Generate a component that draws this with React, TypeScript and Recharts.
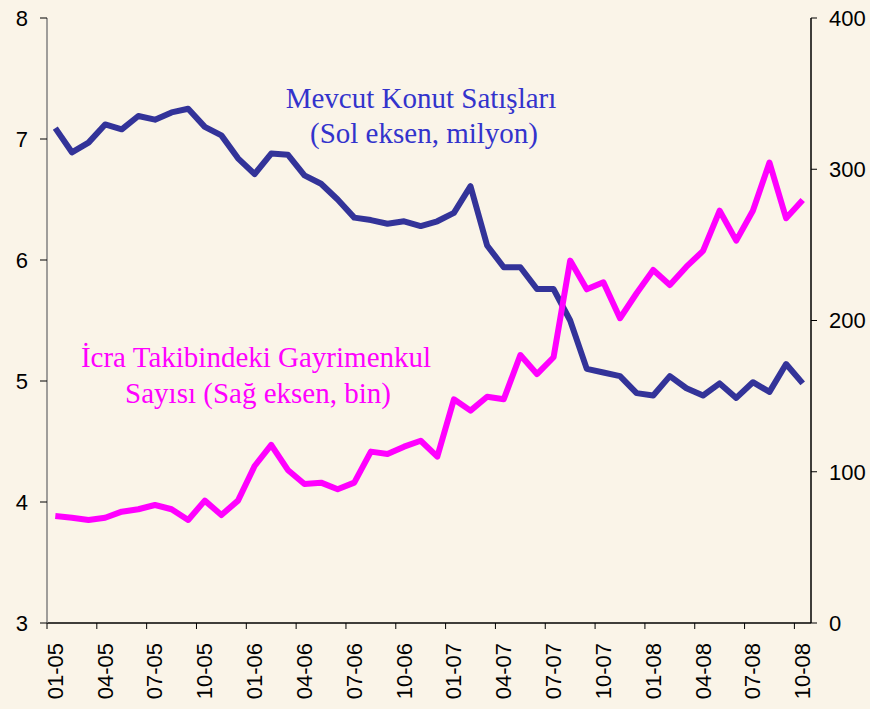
import { ComposedChart, Line, XAxis, YAxis } from "recharts";

const months = [
  "01-05", "02-05", "03-05", "04-05", "05-05", "06-05", "07-05", "08-05", "09-05", "10-05", "11-05", "12-05",
  "01-06", "02-06", "03-06", "04-06", "05-06", "06-06", "07-06", "08-06", "09-06", "10-06", "11-06", "12-06",
  "01-07", "02-07", "03-07", "04-07", "05-07", "06-07", "07-07", "08-07", "09-07", "10-07", "11-07", "12-07",
  "01-08", "02-08", "03-08", "04-08", "05-08", "06-08", "07-08", "08-08", "09-08", "10-08",
];

// Mevcut konut satışları (sol eksen, milyon)
const homeSales = [
  7.09, 6.89, 6.97, 7.12, 7.08, 7.19, 7.16, 7.22, 7.25, 7.1,
  7.03, 6.84, 6.71, 6.88, 6.87, 6.7, 6.63, 6.5, 6.35, 6.33,
  6.3, 6.32, 6.28, 6.32, 6.39, 6.61, 6.12, 5.94, 5.94, 5.76,
  5.76, 5.5, 5.1, 5.07, 5.04, 4.9, 4.88, 5.04, 4.94, 4.88,
  4.98, 4.86, 4.99, 4.91, 5.14, 4.98,
];

// İcra takibindeki gayrimenkul (sağ eksen, bin)
const foreclosures = [
  70.7, 69.6, 68.1, 69.6, 73.6, 75.2, 78.0, 75.2, 68.1, 80.9,
  71.4, 80.9, 103.8, 117.7, 101.2, 91.9, 92.8, 88.4, 92.8, 113.3,
  111.7, 116.6, 120.5, 110, 147.9, 140.4, 149.6, 147.9, 177.2, 164.6,
  175.7, 239.6, 220.6, 225.3, 201.5, 218, 233.4, 223.5, 235.6, 246,
  272.6, 252.8, 272.6, 304.4, 267.6, 279.7,
];

const leftTicks = [3, 4, 5, 6, 7, 8];
const rightTicks = [0, 100, 200, 300, 400];

const data = months.map((m, i) => ({
  month: m,
  sales: homeSales[i],
  foreclosures: foreclosures[i],
}));

const W = 870;
const H = 709;
const bg = "#FAF4E8";
const font = "'Liberation Sans', Arial, sans-serif";
const serif = "'Liberation Serif', 'Times New Roman', serif";

const LEFT_W = 47;
const RIGHT_W = 59;
const band = (W - LEFT_W - RIGHT_W) / months.length;

function MonthTick(props: any) {
  const { x, y, payload } = props;
  const axisY = y - 6;
  return (
    <g>
      <line x1={x - band / 2} x2={x - band / 2} y1={axisY} y2={axisY + 6} stroke="#000" strokeWidth={1} />
      <text
        x={x}
        y={y + 14}
        transform={`rotate(-90 ${x} ${y + 14})`}
        textAnchor="end"
        dominantBaseline="central"
        fontFamily={font}
        fontSize={22}
        fill="#000"
      >
        {payload.value}
      </text>
    </g>
  );
}

export default function App() {
  return (
    <div style={{ position: "absolute", left: 0, top: 0, width: W, height: H, background: bg }}>
      <ComposedChart width={W} height={H} data={data} margin={{ top: 18, right: 0, bottom: 0, left: 0 }}>
        <XAxis
          dataKey="month"
          scale="band"
          interval={2}
          height={86}
          tickLine={false}
          axisLine={{ stroke: "#000", strokeWidth: 1.5 }}
          tick={<MonthTick />}
          tickSize={6}
          tickMargin={0}
        />
        <YAxis
          yAxisId="left"
          orientation="left"
          width={LEFT_W}
          domain={[3, 8]}
          ticks={leftTicks}
          allowDataOverflow
          axisLine={{ stroke: "#808080", strokeWidth: 1.5 }}
          tickLine={{ stroke: "#000" }}
          tickSize={7}
          tickMargin={12}
          tick={{ fill: "#000", fontSize: 22, fontFamily: font }}
        />
        <YAxis
          yAxisId="right"
          orientation="right"
          width={RIGHT_W}
          domain={[0, 400]}
          ticks={rightTicks}
          allowDataOverflow
          axisLine={{ stroke: "#000", strokeWidth: 1.5 }}
          tickLine={{ stroke: "#000" }}
          tickSize={6}
          tickMargin={12}
          tick={{ fill: "#000", fontSize: 22, fontFamily: font }}
        />
        <Line
          yAxisId="left"
          dataKey="sales"
          stroke="#333399"
          strokeWidth={6}
          dot={false}
          type="linear"
          strokeLinejoin="round"
          isAnimationActive={false}
        />
        <Line
          yAxisId="right"
          dataKey="foreclosures"
          stroke="#FF00FF"
          strokeWidth={6}
          dot={false}
          type="linear"
          strokeLinejoin="round"
          isAnimationActive={false}
        />
        <text x={421} y={108} textAnchor="middle" fontFamily={serif} fontSize={29} fill="#3333CC">
          Mevcut Konut Satışları
        </text>
        <text x={424} y={143} textAnchor="middle" fontFamily={serif} fontSize={29} fill="#3333CC">
          (Sol eksen, milyon)
        </text>
        <text x={256} y={367} textAnchor="middle" fontFamily={serif} fontSize={29} fill="#FF00FF">
          İcra Takibindeki Gayrimenkul
        </text>
        <text x={258} y={403} textAnchor="middle" fontFamily={serif} fontSize={29} fill="#FF00FF">
          Sayısı (Sağ eksen, bin)
        </text>
      </ComposedChart>
    </div>
  );
}
